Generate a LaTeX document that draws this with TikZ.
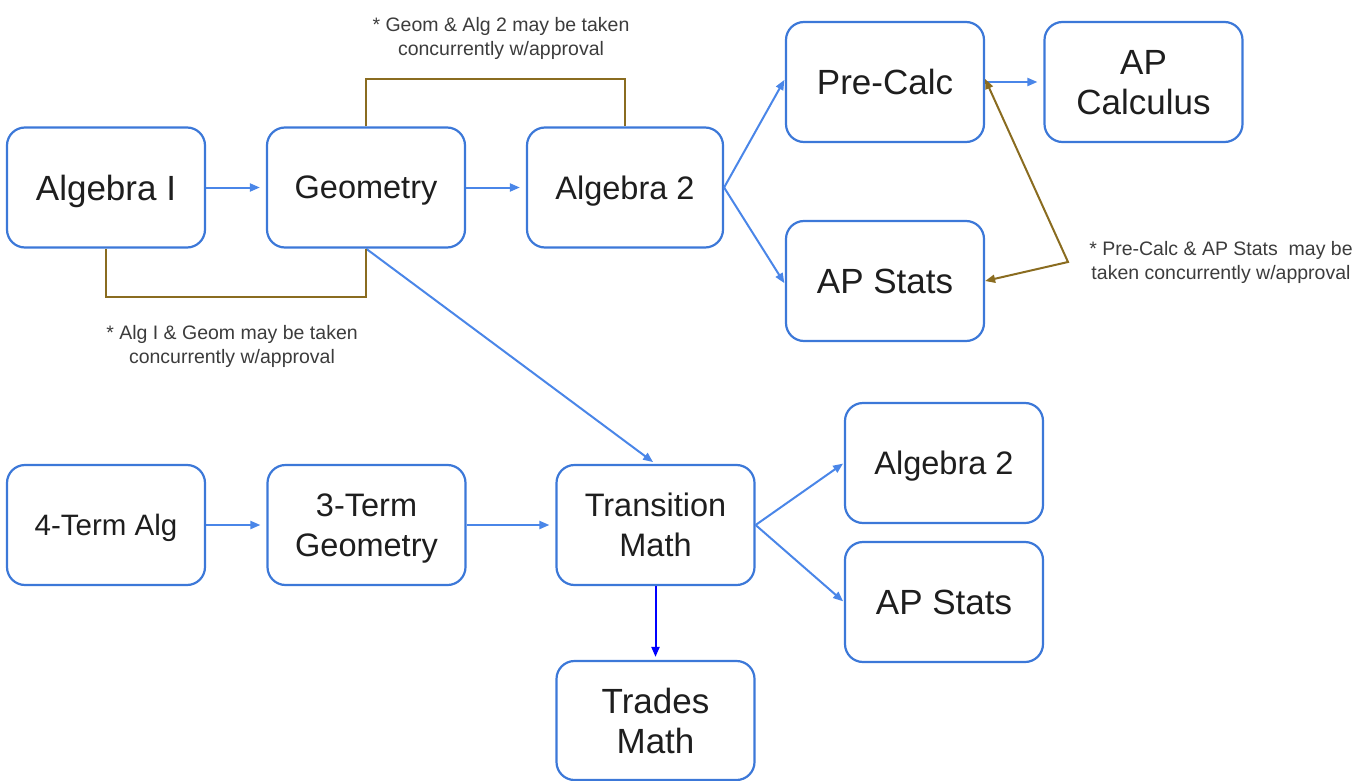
\documentclass[tikz,border=0pt]{standalone}
\usepackage{fontspec}
\setmainfont{Liberation Sans}
\usetikzlibrary{arrows.meta}
\definecolor{boxblue}{RGB}{60,120,216}
\definecolor{arrowblue}{RGB}{74,134,232}
\definecolor{pureblue}{RGB}{0,0,255}
\definecolor{olive}{RGB}{138,108,32}
\definecolor{inktext}{RGB}{30,30,30}
\definecolor{notetext}{RGB}{60,60,60}
\tikzset{
  course/.style={draw=boxblue, line width=2.2pt, rounded corners=18pt,
    minimum width=198pt, minimum height=120pt, align=center,
    text=inktext, inner sep=0pt, text depth=0pt},
  big/.style={font=\fontsize{35}{40}\selectfont},
  mid/.style={font=\fontsize{32.5}{40}\selectfont},
  small/.style={font=\fontsize{29.5}{36}\selectfont},
  flow/.style={draw=arrowblue, line width=2pt, shorten >=6pt,
    -{Triangle[length=10pt,width=8pt]}},
  flowdark/.style={draw=pureblue, line width=2pt, shorten >=3pt,
    -{Triangle[length=10pt,width=8pt]}},
  concur/.style={draw=olive, line width=2.2pt},
  note/.style={align=center, text=notetext, inner sep=0pt,
    font=\fontsize{19.5}{24}\selectfont}
}
\begin{document}
\begin{tikzpicture}[x=1pt, y=-1pt]
\useasboundingbox (0,0) rectangle (1370,781);

% main sequence
\node[course, big] (alg1) at (106,187.5) {Algebra I};
\node[course, mid] (geo)  at (366,187.5) {Geometry};
\node[course, mid, minimum width=196pt] (alg2) at (625,187.5) {Algebra 2};
\node[course, big] (pre)  at (885,82) {Pre-Calc};
\node[course, big] (calc) at (1143.5,82) {AP\\Calculus};
\node[course, big] (stats) at (885,281) {AP Stats};

% alternate sequence
\node[course, small] (four)  at (106,525) {4-Term Alg};
\node[course, mid]   (three) at (366.5,525) {3-Term\\Geometry};
\node[course, mid]   (trans) at (655.5,525) {Transition\\Math};
\node[course, mid]   (alg2b) at (944,463) {Algebra 2};
\node[course, big]   (statsb) at (944,602) {AP Stats};
\node[course, big, minimum height=119pt] (trades) at (655.5,720.5) {Trades\\Math};

% prerequisites
\draw[flow] (alg1.east) -- (geo.west);
\draw[flow] (geo.east) -- (alg2.west);
\draw[flow, shorten >=1pt] (alg2.east) -- ([yshift=3pt]pre.west);
\draw[flow, shorten >=1pt] (alg2.east) -- ([yshift=-3pt]stats.west);
\draw[flow] (pre.east) -- (calc.west);
\draw[flow, shorten >=3pt] (geo.south) -- (trans.north);
\draw[flow] (four.east) -- (three.west);
\draw[flow] (three.east) -- (trans.west);
\draw[flow, shorten >=1pt] (trans.east) -- (alg2b.west);
\draw[flow, shorten >=1pt] (trans.east) -- (statsb.west);
\draw[flowdark] (trans.south) -- (trades.north);

% concurrent enrolment brackets
\draw[concur] (alg1.south) -- ++(0,48) -| (geo.south);
\draw[concur] (geo.north) -- ++(0,-47) -| (alg2.north);
\coordinate (elbow) at (1068,262);
\draw[concur, line width=2pt, {Triangle[length=10pt,width=8pt]}-{Triangle[length=10pt,width=8pt]}]
  ([yshift=3pt]pre.east) -- (elbow) -- (stats.east);

% notes
\node[note] (n1) at (501,38) {* Geom \& Alg 2 may be taken\\concurrently w/approval};
\node[note] (n2) at (232,346) {* Alg I \& Geom may be taken\\concurrently w/approval};
\node[note] (n3) at (1221,262) {* Pre-Calc \& AP Stats\ \ may be\\taken concurrently w/approval};
\end{tikzpicture}
\end{document}
